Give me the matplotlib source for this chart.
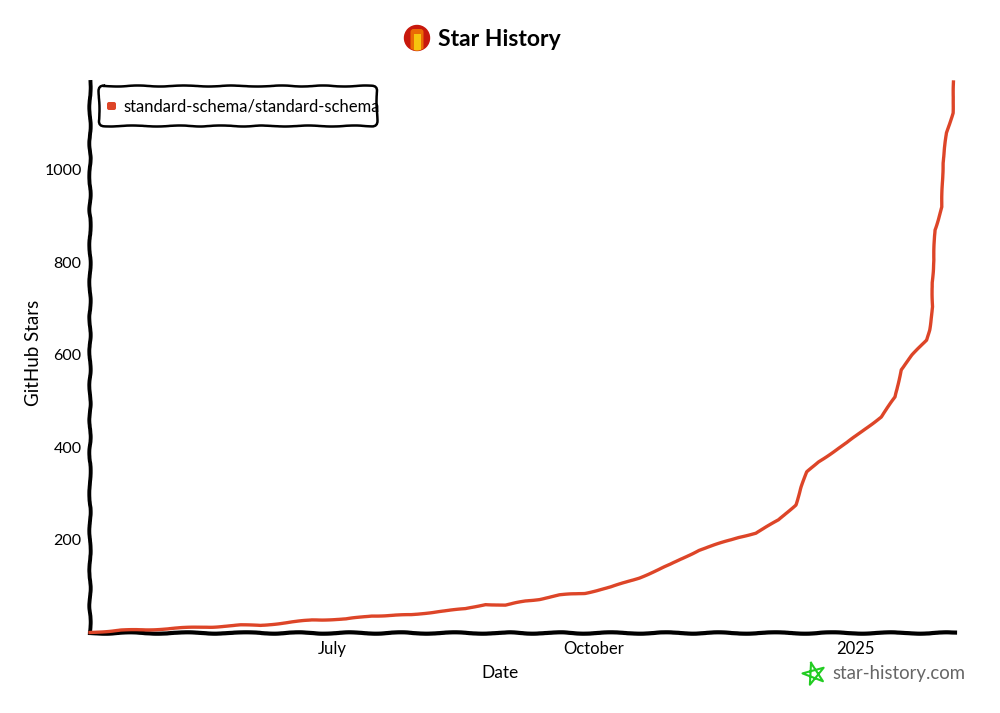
import matplotlib
matplotlib.use("Agg")
import matplotlib.pyplot as plt
import matplotlib.patches as mpatches
import numpy as np
import pandas as pd

# values
dates = ["2024-04-07", "2024-04-18", "2024-04-28", "2024-05-09", "2024-05-20",
         "2024-05-30", "2024-06-06", "2024-06-13", "2024-06-24", "2024-07-06",
         "2024-07-15", "2024-07-29", "2024-08-08", "2024-08-17", "2024-08-24",
         "2024-08-31", "2024-09-07", "2024-09-12", "2024-09-19", "2024-09-28",
         "2024-10-07", "2024-10-17", "2024-10-28", "2024-11-07", "2024-11-21",
         "2024-11-27", "2024-12-05", "2024-12-11", "2024-12-13", "2024-12-15",
         "2024-12-19", "2024-12-29", "2025-01-10", "2025-01-15", "2025-01-17",
         "2025-01-21", "2025-01-26", "2025-01-27 00:00", "2025-01-28 05:00",
         "2025-01-27 22:00", "2025-01-28 14:00", "2025-01-28 22:00",
         "2025-01-31 10:00", "2025-01-31 17:00", "2025-02-02 02:00",
         "2025-02-04 05:00", "2025-02-04 14:00"]
stars = [0, 5, 6, 10, 12, 16, 15, 20, 27, 29,
         36, 38, 46, 51, 61, 59, 68, 72, 81, 85,
         98, 118, 147, 178, 206, 215, 243, 276, 315, 347,
         369, 410, 466, 509, 568,
         600, 632, 654, 704,
         756, 805, 870,
         920, 1015, 1080,
         1123, 1190]

repo_name = "standard-schema/standard-schema"
yticks = [200, 400, 600, 800, 1000]
xtick_dates = ["2024-07-01", "2024-10-01", "2025-01-01"]
xtick_labels = ["July", "October", "2025"]

plt.rcParams["font.family"] = ["Lato", "DejaVu Sans"]
W, H = 1000, 713
fig = plt.figure(figsize=(10, 7.13), dpi=100)
ax = fig.add_axes([90 / W, 1 - 632.5 / H, 865 / W, 550.5 / H])

line_color = "#dd4528"
x = pd.to_datetime(dates, format="ISO8601")
line, = ax.plot(x, stars, color=line_color, lw=2.4, solid_joinstyle="round", zorder=3, clip_on=False)
line.set_sketch_params(0.4, 60, 2)

ax.set_xlim(pd.Timestamp("2024-04-07"), pd.Timestamp("2025-02-05"))
ax.set_ylim(0, 1190)
ax.set_yticks(yticks)
ax.set_xticks(pd.to_datetime(xtick_dates))
ax.set_xticklabels(xtick_labels)
ax.tick_params(length=0, labelsize=12, pad=6)
ax.tick_params(axis="y", labelsize=11.5, pad=6)
ax.set_xlabel("Date", fontsize=12.5)
ax.xaxis.set_label_coords(410 / 865, -33 / 550.5)
ax.set_ylabel("GitHub Stars", fontsize=13.5)
ax.yaxis.set_label_coords(-48 / 865, (632.5 - 353) / 550.5)

for s in ["top", "right"]:
    ax.spines[s].set_visible(False)
ax.spines["left"].set_linewidth(2.8)
ax.spines["left"].set_sketch_params(0.7, 40, 2)
ax.spines["bottom"].set_linewidth(3.0)
ax.spines["bottom"].set_sketch_params(0.7, 60, 2)

# overlay in pixel coordinates for title, logo, legend box and watermark
ov = fig.add_axes([0, 0, 1, 1], zorder=5)
ov.set_xlim(0, W)
ov.set_ylim(H, 0)
ov.axis("off")

# logo
clip = mpatches.Circle((417, 38), 12.5, color="#c8180c")
ov.add_patch(clip)
orange = ov.add_patch(mpatches.FancyBboxPatch((410.5, 29), 13, 30, boxstyle="round,pad=0,rounding_size=3", fc="#ea6a05", ec="none"))
yellow = ov.add_patch(mpatches.Rectangle((414, 34), 6.5, 20, fc="#f6c40e", ec="none"))
orange.set_clip_path(clip)
yellow.set_clip_path(clip)
ov.text(438, 39, "Star History", fontsize=16.5, fontweight="bold", va="center", ha="left", color="black")

# legend
box = mpatches.FancyBboxPatch((99, 86), 278, 40, boxstyle="round,pad=0,rounding_size=5",
                              fc="white", ec="black", lw=1.8)
box.set_sketch_params(0.5, 50, 2)
ov.add_patch(box)
ov.add_patch(mpatches.FancyBboxPatch((107, 102), 9, 8, boxstyle="round,pad=0,rounding_size=2", fc=line_color, ec="none"))
ov.text(123, 106, repo_name, fontsize=12, va="center", ha="left", color="black")

# watermark
angles = np.deg2rad(90 + 144 * np.arange(6) + 15)
star_line, = ov.plot(814 + 11.5 * np.cos(angles), 674 - 11.5 * np.sin(angles), color="#22cc22", lw=1.5, solid_joinstyle="round")
ov.text(832, 674, "star-history.com", fontsize=13.4, va="center", ha="left", color="#666666")

fig.savefig("out.png", dpi=100)
